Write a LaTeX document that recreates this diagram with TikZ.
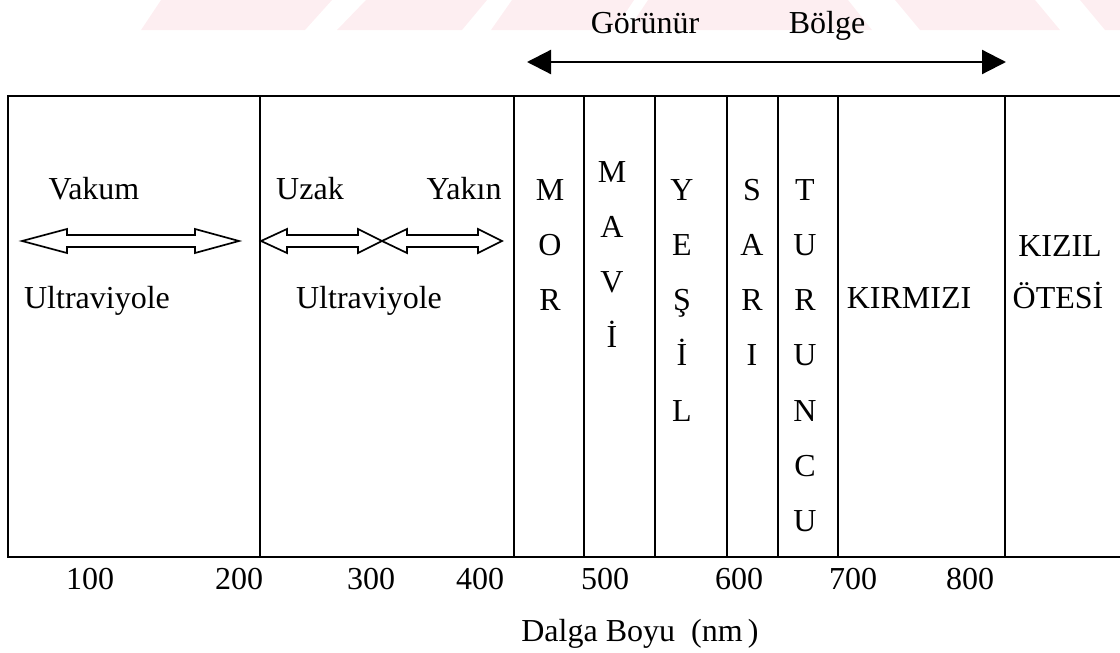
\documentclass[tikz,border=0pt]{standalone}
\usepackage{fontspec}
\setmainfont{Liberation Serif}
\usetikzlibrary{arrows.meta}
\definecolor{wmpink}{RGB}{253,238,241}
\newcommand\hdarrow[5]{%
  \draw[hollow] (#1,#3) -- (#1+#4,#3-12) -- (#1+#4,#3-6) -- (#2-#5,#3-6) -- (#2-#5,#3-12) -- (#2,#3)
    -- (#2-#5,#3+12) -- (#2-#5,#3+6) -- (#1+#4,#3+6) -- (#1+#4,#3+12) -- cycle;}
\begin{document}
\begin{tikzpicture}[x=1pt,y=-1pt,
  lbl/.style={font=\fontsize{32}{38}\selectfont, inner sep=0pt, anchor=base},
  frame/.style={line width=1.8pt},
  sep/.style={line width=1.3pt},
  hollow/.style={draw, line width=1.7pt, fill=white, line join=miter},
  wm/.style={fill=wmpink, draw=none}]
\useasboundingbox (0,0) rectangle (1120,653);
% faint watermark
\fill[wm] (141,30) -- (161,0) -- (332,0) -- (305,30) -- cycle;
\fill[wm] (337,30) -- (366,0) -- (487,0) -- (462,30) -- cycle;
\fill[wm] (491,30) -- (512,0) -- (634,0) -- (614,30) -- cycle;
\fill[wm] (628,30) -- (648,0) -- (848,0) -- (872,30) -- cycle;
\fill[wm] (895,0) -- (1035,0) -- (1060,30) -- (920,30) -- cycle;
\fill[wm] (1080,0) -- (1120,0) -- (1120,30) -- (1105,30) -- cycle;
% frame
\draw[frame] (1120,96) -- (8,96) -- (8,557) -- (1120,557);
\foreach \x in {260,514,584,655,727,778,838,1005}
  \draw[sep] (\x,96) -- (\x,557);
% visible region arrow
\node[lbl] (gor) at (645,34) {Görünür};
\node[lbl] (bol) at (827,34) {Bölge};
\coordinate (gl) at (527,62);
\coordinate (gr) at (1006,62);
\draw[line width=2.2pt, {Triangle[length=24pt,width=24pt]}-{Triangle[length=24pt,width=24pt]}] (gl) -- (gr);
% UV
\node[lbl] (vak) at (94,199) {Vakum};
\node[lbl] (uza) at (310,199) {Uzak};
\node[lbl] (yak) at (464,199) {Yakın};
\hdarrow{22}{239}{241}{45}{44}
\hdarrow{261}{382}{241}{26}{24}
\hdarrow{382}{502}{241}{25}{24}
\node[lbl] (uv1) at (97,308) {Ultraviyole};
\node[lbl] (uv2) at (369,308) {Ultraviyole};
% visible colours
\foreach \l [count=\i] in {M,O,R}
  \node[lbl] (mor-\i) at (550,{200+55.3*(\i-1)}) {\l};
\foreach \l [count=\i] in {M,A,V,İ}
  \node[lbl] (mav-\i) at (612,{182+55.3*(\i-1)}) {\l};
\foreach \l [count=\i] in {Y,E,Ş,İ,L}
  \node[lbl] (yes-\i) at (682,{200+55.3*(\i-1)}) {\l};
\foreach \l [count=\i] in {S,A,R,I}
  \node[lbl] (sar-\i) at (752,{200+55.3*(\i-1)}) {\l};
\foreach \l [count=\i] in {T,U,R,U,N,C,U}
  \node[lbl] (tur-\i) at (805,{200+55.3*(\i-1)}) {\l};
\node[lbl] (kir) at (909,308) {KIRMIZI};
\node[lbl] (kiz) at (1060,256) {KIZIL};
\node[lbl] (ote) at (1058,308) {ÖTESİ};
% axis numbers
\foreach \v/\x in {100/90,200/239,300/371,400/480,500/605,600/739,700/853,800/970}
  \node[lbl] (n\v) at (\x,589) {\v};
\node[lbl] (axis) at (640,641) {Dalga Boyu\ \ (nm\,)};
\end{tikzpicture}
\end{document}
